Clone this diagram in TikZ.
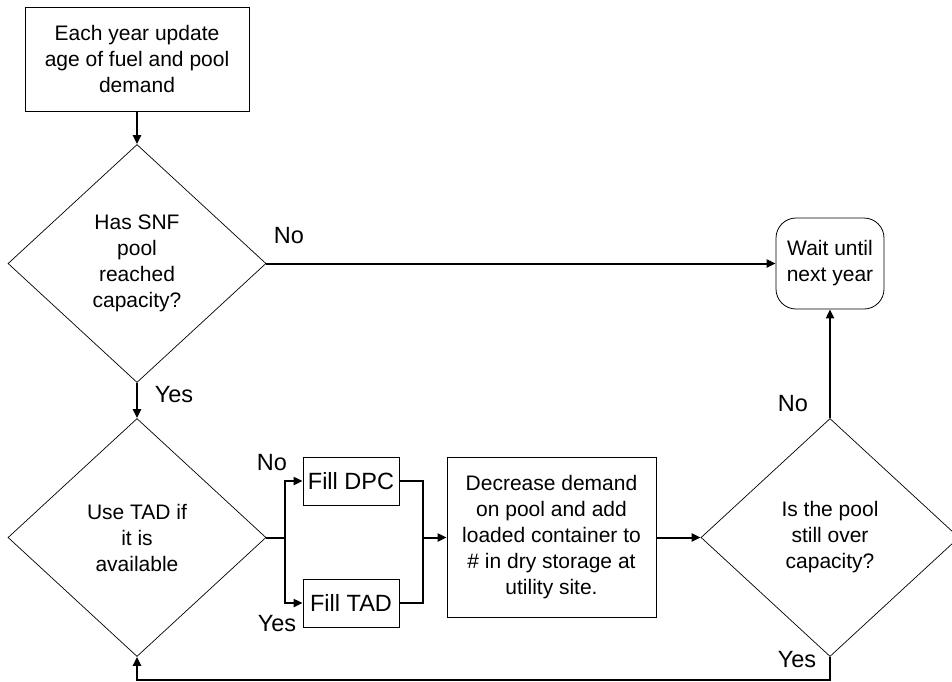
\documentclass[tikz,border=0pt]{standalone}
\usepackage{fontspec}
\setmainfont{Liberation Sans}
\usetikzlibrary{shapes.geometric,arrows.meta}
\begin{document}
\begin{tikzpicture}[x=1pt,y=-1pt,
  box/.style={draw, line width=0.8pt, align=center, inner sep=0pt, font=\fontsize{21}{26}\selectfont},
  dia/.style={draw, diamond, line width=0.7pt, align=center, inner sep=0pt, minimum width=258pt, minimum height=238pt, font=\fontsize{21}{26}\selectfont},
  fillbox/.style={draw, line width=0.8pt, inner sep=0pt, minimum width=96pt, minimum height=48pt, font=\fontsize{23.5}{28}\selectfont},
  lab/.style={inner sep=0pt, font=\fontsize{23.5}{28}\selectfont},
  conn/.style={line width=2pt},
  arr/.style={line width=2pt, -{Triangle[length=9pt,width=8pt]}}
]
\useasboundingbox (0,0) rectangle (952,681);
\node[box, minimum width=224pt, minimum height=104pt] (top) at (137,59) {Each year update\\age of fuel and pool\\demand};
\node[dia] (d1) at (137,263.5) {Has SNF\\pool\\reached\\capacity?};
\node[dia] (d2) at (137,537.5) {Use TAD if\\it is\\available};
\node[dia] (d3) at (830,537.5) {Is the pool\\still over\\capacity?};
\node[box, rounded corners=20pt, minimum width=108pt, minimum height=91pt] (wait) at (830,263.5) {Wait until\\next year};
\node[fillbox] (dpc) at (351,481) {Fill DPC};
\node[fillbox] (tad) at (351,603) {Fill TAD};
\node[box, minimum width=209pt, minimum height=160pt] (dec) at (551.5,537.5) {Decrease demand\\on pool and add\\loaded container to\\\# in dry storage at\\utility site.};
\coordinate (jl) at (285,537.5);
\coordinate (jr) at (423,537.5);
\coordinate (bot) at (830,679.5);
\draw[arr] (top.south) -- (d1.north);
\draw[arr] (d1.east) -- (wait.west);
\draw[arr] (d1.south) -- (d2.north);
\draw[conn] (d2.east) -- (jl);
\draw[arr] (jl) |- (dpc.west);
\draw[arr] (jl) |- (tad.west);
\draw[conn] (dpc.east) -| (jr);
\draw[conn] (tad.east) -| (jr);
\draw[arr] (jr) -- (dec.west);
\draw[arr] (dec.east) -- (d3.west);
\draw[arr] (d3.north) -- (wait.south);
\draw[arr] (d3.south) -- (bot) -| (d2.south);
\node[lab] (l1) at (289,236) {No};
\node[lab] (l2) at (174,395) {Yes};
\node[lab] (l3) at (272,463) {No};
\node[lab] (l4) at (277,624) {Yes};
\node[lab] (l5) at (793,404) {No};
\node[lab] (l6) at (797,660) {Yes};
\end{tikzpicture}
\end{document}
